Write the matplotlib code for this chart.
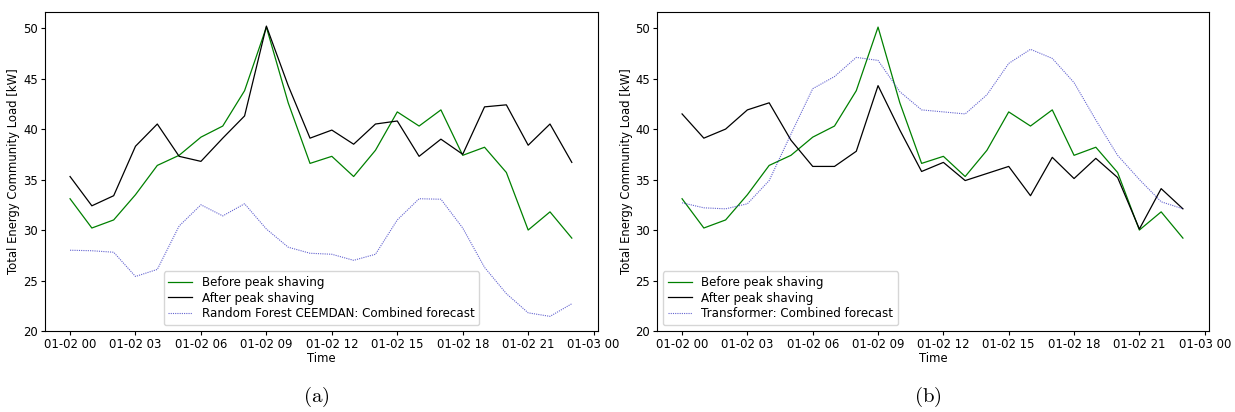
import matplotlib
matplotlib.use('Agg')
import matplotlib.pyplot as plt
import matplotlib.dates as mdates
import pandas as pd

hours = pd.date_range('2023-01-02 00:00', periods=24, freq='h')

before = [33.1, 30.2, 31.0, 33.5, 36.4, 37.4, 39.2, 40.3, 43.8, 50.1, 42.6, 36.6,
          37.3, 35.3, 37.9, 41.7, 40.3, 41.9, 37.4, 38.2, 35.7, 30.0, 31.8, 29.2]

after_rf = [35.3, 32.4, 33.4, 38.3, 40.5, 37.3, 36.8, 39.1, 41.3, 50.2, 44.3, 39.1,
            39.9, 38.5, 40.5, 40.8, 37.3, 39.0, 37.5, 42.2, 42.4, 38.4, 40.5, 36.7]
rf_forecast = [28.0, 27.95, 27.8, 25.4, 26.1, 30.4, 32.5, 31.4, 32.6, 30.1, 28.3, 27.7,
               27.6, 27.0, 27.6, 31.0, 33.1, 33.05, 30.2, 26.3, 23.7, 21.8, 21.45, 22.7]

after_tf = [41.5, 39.1, 40.0, 41.9, 42.6, 38.9, 36.3, 36.3, 37.8, 44.3, 39.9, 35.8,
            36.7, 34.9, 35.6, 36.3, 33.4, 37.2, 35.1, 37.1, 35.2, 30.1, 34.1, 32.1]
tf_forecast = [32.7, 32.2, 32.1, 32.6, 34.9, 39.5, 44.0, 45.2, 47.1, 46.8, 43.7, 41.9,
               41.7, 41.5, 43.4, 46.5, 47.9, 47.0, 44.6, 40.9, 37.4, 35.0, 32.8, 32.1]

panels = [
    (after_rf, rf_forecast, 'Random Forest CEEMDAN: Combined forecast', 'lower center', '(a)'),
    (after_tf, tf_forecast, 'Transformer: Combined forecast', 'lower left', '(b)'),
]

plt.rcParams['font.size'] = 8.4
fig = plt.figure(figsize=(12.35, 4.12), dpi=100)
boxes = [[0.0364, 0.1966, 0.4478, 0.7744], [0.532, 0.1966, 0.447, 0.7744]]

for box, (after, forecast, name, loc, cap) in zip(boxes, panels):
    ax = fig.add_axes(box)
    ax.plot(hours, before, color='green', linewidth=0.9, label='Before peak shaving')
    ax.plot(hours, after, color='black', linewidth=0.9, label='After peak shaving')
    ax.plot(hours, forecast, color='#3030c0', alpha=0.75, linewidth=0.8,
            linestyle=(0, (1, 1)), label=name)
    ax.set_ylim(20, 51.6)
    ax.xaxis.set_major_locator(mdates.HourLocator(byhour=range(0, 24, 3)))
    ax.xaxis.set_major_formatter(mdates.DateFormatter('%m-%d %H'))
    ax.set_xlim(hours[0] - pd.Timedelta(hours=1.15), hours[-1] + pd.Timedelta(hours=1.2))
    ax.tick_params(length=3, pad=2)
    ax.set_xlabel('Time', labelpad=1)
    ax.set_ylabel('Total Energy Community Load [kW]', labelpad=2)
    ax.legend(loc=loc, fontsize=8.6, labelspacing=0.22)
    fig.text(box[0] + box[2] / 2 - 0.004, 0.036, r'$\mathrm{' + cap + '}$',
             ha='center', va='center', fontsize=15, math_fontfamily='cm')

fig.savefig('out.png', dpi=100)
